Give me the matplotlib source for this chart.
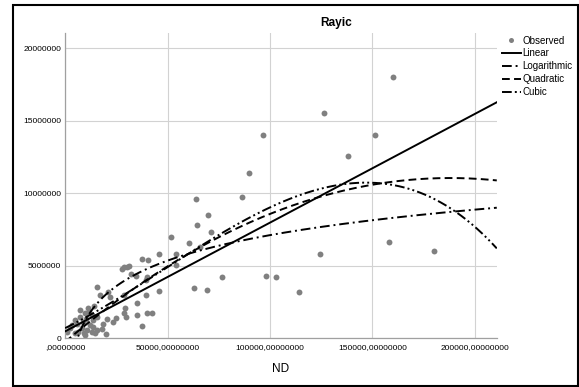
import numpy as np
import matplotlib
matplotlib.use("Agg")
import matplotlib.pyplot as plt
from matplotlib.lines import Line2D
from matplotlib.patches import Rectangle

plt.rcParams['font.family'] = ['Liberation Sans', 'DejaVu Sans']

# observed points (ND, Rayic)
obs_x = [160260, 126370, 151420, 96780, 137900, 89560, 86330, 63900, 69750, 64200,
         71300, 51550, 60650, 65700, 158100, 179850, 124500, 54100, 45800, 54150,
         76450, 98100, 102700, 114400, 63100, 69100, 45850,
         37400, 40650, 30080, 31350, 27640, 28760, 32030, 34620, 39500, 39840,
         39500, 15430, 17040, 21100, 21930, 28760, 34960, 29250, 40140, 42280,
         35260, 29590, 24850, 20300, 37400, 17870, 19800, 23540, 18660, 28600,
         11340, 9700, 7270, 4830, 3220, 12990, 13770, 8890, 12160, 8100, 10550,
         12990, 13770, 6450, 9720, 15430, 14600, 4830, 7270, 15430, 780, 2390,
         10200, 11800, 6000, 14200, 9000]
obs_y = [18.0, 15.52, 14.0, 14.0, 12.6, 11.4, 9.77, 9.61, 8.52, 7.84,
         7.31, 7.0, 6.55, 6.32, 6.62, 6.02, 5.81, 5.81, 5.81, 5.06,
         4.2, 4.3, 4.2, 3.21, 3.45, 3.35, 3.28,
         5.5, 5.4, 4.94, 5.0, 4.76, 4.9, 4.41, 4.3, 4.02, 4.25,
         2.99, 3.56, 2.99, 3.21, 2.87, 2.99, 2.46, 2.07, 1.72, 1.72,
         1.61, 1.45, 1.38, 1.31, 0.85, 0.62, 0.3, 1.1, 1.0, 1.75,
         2.07, 1.72, 1.49, 1.26, 0.92, 1.61, 1.26, 1.15, 0.92, 0.69, 0.57,
         0.46, 0.8, 0.46, 0.23, 1.49, 0.34, 0.34, 1.95, 0.57, 0.46, 0.69,
         1.3, 1.8, 1.0, 2.2, 0.4]
obs_y = [v * 1e6 for v in obs_y]

# fitted curve coefficients (constant first)
lin_coef = [480000, 75.0]
log_coef = [-22.09e6, 2.537e6]
quad_coef = [-250000, 120.3, -3.2e-4]
cub_coef = [703000, 69.66, 4.46e-4, -3.098e-9]

x_ticks = [0, 50000, 100000, 150000, 200000]
x_labels = [',00000000', '50000,00000000', '100000,00000000',
            '150000,00000000', '200000,00000000']
y_ticks = [0, 5000000, 10000000, 15000000, 20000000]
y_labels = ['0', '5000000', '10000000', '15000000', '20000000']

fig = plt.figure(figsize=(5.79, 3.87), dpi=100)
ax = fig.add_axes([0.1116, 0.1258, 0.7464, 0.7889])

xs = np.linspace(0, 210700, 500)
xl = np.linspace(1000, 210700, 500)
lw = 1.4
ax.scatter(obs_x, obs_y, s=18, color='#808080', zorder=2, linewidths=0)
ax.plot(xs, np.polyval(lin_coef[::-1], xs), color='black', lw=lw, zorder=3)
ax.plot(xl, log_coef[0] + log_coef[1] * np.log(xl), color='black', lw=lw,
        ls=(0, (5, 2, 1, 2)), zorder=3)
ax.plot(xs, np.polyval(quad_coef[::-1], xs), color='black', lw=lw,
        ls=(0, (4, 2.2)), zorder=3)
ax.plot(xs, np.polyval(cub_coef[::-1], xs), color='black', lw=lw,
        ls=(0, (5, 1.6, 1, 1.6, 1, 1.6)), zorder=3)

ax.set_xlim(-250, 210700)
ax.set_ylim(0, 21.06e6)
ax.set_xticks(x_ticks)
ax.set_xticklabels(x_labels)
ax.set_yticks(y_ticks)
ax.set_yticklabels(y_labels)
ax.tick_params(length=0, labelsize=6, colors='black')
ax.tick_params(axis='x', pad=4)
ax.tick_params(axis='y', pad=2.6)
ax.grid(True, color='#d2d2d2', lw=0.8)
ax.set_axisbelow(True)
for s in ['top', 'right']:
    ax.spines[s].set_visible(False)
for s in ['left', 'bottom']:
    ax.spines[s].set_color('#a0a0a0')
    ax.spines[s].set_linewidth(0.9)

ax.set_xlabel('ND', fontsize=8.5, va='center')
ax.xaxis.set_label_coords(0.5, -0.1006)
fig.text(336 / 579, 1 - 22.7 / 387, 'Rayic', ha='center', va='center',
         fontsize=8.6, weight='bold')

handles = [
    Line2D([], [], ls='none', marker='o', ms=3.6, color='#808080', mew=0),
    Line2D([], [], color='black', lw=lw),
    Line2D([], [], color='black', lw=lw, ls=(0, (5, 2, 1, 2))),
    Line2D([], [], color='black', lw=lw, ls=(0, (4, 2.2))),
    Line2D([], [], color='black', lw=lw, ls=(0, (5, 1.6, 1, 1.6, 1, 1.6))),
]
labels = ['Observed', 'Linear', 'Logarithmic', 'Quadratic', 'Cubic']
fig.legend(handles, labels, loc='upper left', bbox_to_anchor=(502 / 579, 1 - 35.5 / 387),
           frameon=False, fontsize=7, handlelength=1.95, handletextpad=0.15,
           labelspacing=0.3, borderpad=0, borderaxespad=0)

fig.patches.append(Rectangle((13 / 579, 1 - 386 / 387), 565 / 579, 381 / 387,
                             transform=fig.transFigure, fill=False,
                             ec='black', lw=1.5))

fig.savefig('out.png', dpi=100)
